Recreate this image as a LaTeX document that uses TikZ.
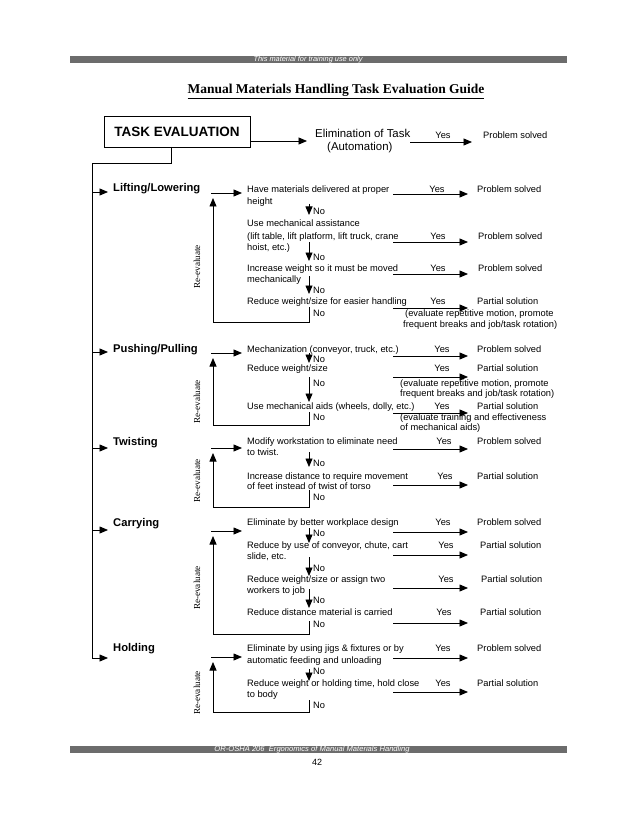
\documentclass[tikz,border=0pt]{standalone}
\usepackage{fontspec}
\setmainfont{Liberation Serif}
\setsansfont{Liberation Sans}
\usetikzlibrary{arrows.meta}
\definecolor{bargray}{RGB}{108,108,108}
\tikzset{
 ln/.style={line width=0.8pt},
 arr/.style={line width=0.8pt,-{Triangle[length=8.5pt,width=7pt]}},
 txt/.style={inner sep=0pt,anchor=base west,font=\sffamily\fontsize{9.3}{11}\selectfont},
 cat/.style={inner sep=0pt,anchor=base west,font=\sffamily\bfseries\fontsize{11.2}{13}\selectfont},
 yes/.style={inner sep=0pt,anchor=base,font=\sffamily\fontsize{9.3}{11}\selectfont},
 reeval/.style={inner sep=0pt,rotate=90,font=\rmfamily\fontsize{9.2}{11}\selectfont},
}
\newcommand\yesline[2]{\coordinate (#1s) at (393,#2); \coordinate (#1e) at (468,#2); \draw[arr] (#1s) -- (#1e);}
\newcommand\downarr[3]{\coordinate (#1s) at (309,#2); \coordinate (#1e) at (309,#3); \draw[arr] (#1s) -- (#1e);}
\newcommand\reloop[4]{\coordinate (#1a) at (309,#2); \coordinate (#1b) at (309,#3); \coordinate (#1c) at (213,#3); \coordinate (#1d) at (213,#4); \draw[arr] (#1a) -- (#1b) -- (#1c) -- (#1d);}
\newcommand\entryarr[2]{\coordinate (#1s) at (211,#2); \coordinate (#1e) at (242,#2); \draw[arr] (#1s) -- (#1e);}
\begin{document}
\begin{tikzpicture}[x=1pt,y=-1pt]
\useasboundingbox[fill=white] (0,0) rectangle (638,826);
% header / footer
\fill[bargray] (70,56) rectangle (567,63);
\node[inner sep=0pt,text=white,font=\sffamily\itshape\fontsize{7.4}{8}\selectfont] (hdr) at (308,59.5) {This material for training use only};
\node[inner sep=0pt,anchor=base,font=\rmfamily\bfseries\fontsize{13.5}{15}\selectfont] (title) at (336,94) {\underline{Manual Materials Handling Task Evaluation Guide}};
\fill[bargray] (70,746) rectangle (567,753);
\node[inner sep=0pt,text=white,font=\sffamily\itshape\fontsize{7.6}{8}\selectfont] (ftr) at (312,749.5) {OR-OSHA 206\ \ Ergonomics of Manual Materials Handling};
\node[inner sep=0pt,anchor=base,font=\sffamily\fontsize{9}{10}\selectfont] (pg) at (317,765.5) {42};
% top
\node[draw,line width=0.9pt,minimum width=146pt,minimum height=31pt,inner sep=0pt,font=\sffamily\bfseries\fontsize{13.5}{15}\selectfont] (te) at (177,131.5) {TASK EVALUATION};
\coordinate (teo) at (250,141); \coordinate (elin) at (307,141);
\draw[arr] (teo) -- (elin);
\node[inner sep=0pt,anchor=base west,font=\sffamily\fontsize{11.4}{13}\selectfont] (elim) at (315,138) {Elimination of Task};
\node[inner sep=0pt,anchor=base west,font=\sffamily\fontsize{11.4}{13}\selectfont] (auto) at (327,151) {(Automation)};
\coordinate (y0s) at (410,142); \coordinate (y0e) at (472,142); \draw[arr] (y0s) -- (y0e);
\node[yes] (y0) at (443,138.5) {Yes};
\node[txt] (p0) at (483,138.5) {Problem solved};
% left tree
\coordinate (t0) at (171,147); \coordinate (t1) at (171,163); \coordinate (t2) at (92,163); \coordinate (t3) at (92,658);
\draw[ln] (t0) -- (t1) -- (t2) -- (t3);
\coordinate (hE) at (108,658); \draw[arr] (t3) -- (hE);
\coordinate (lS) at (92,192); \coordinate (lE) at (108,192); \draw[arr] (lS) -- (lE);
\coordinate (pS) at (92,352); \coordinate (pE) at (108,352); \draw[arr] (pS) -- (pE);
\coordinate (tS) at (92,448); \coordinate (tE) at (108,448); \draw[arr] (tS) -- (tE);
\coordinate (cS) at (92,530); \coordinate (cE) at (108,530); \draw[arr] (cS) -- (cE);
\node[cat] (lift) at (113,192) {Lifting/Lowering};
\node[cat] (push) at (113,352) {Pushing/Pulling};
\node[cat] (twist) at (113,445) {Twisting};
\node[cat] (carry) at (113,526) {Carrying};
\node[cat] (hold) at (113,651) {Holding};
% ===== Lifting
\entryarr{le}{193}
\node[txt] (l1a) at (247,192.5) {Have materials delivered at proper};
\node[txt] (l1b) at (247,204.5) {height};
\node[txt] (l2a) at (247,226.5) {Use mechanical assistance};
\node[txt] (l2b) at (247,239.5) {(lift table, lift platform, lift truck, crane};
\node[txt] (l2c) at (247,250.5) {hoist, etc.)};
\node[txt] (l3a) at (247,271.5) {Increase weight so it must be moved};
\node[txt] (l3b) at (247,282.5) {mechanically};
\node[txt] (l4a) at (247,304.5) {Reduce weight/size for easier handling};
\downarr{ld1}{204}{215} \node[txt] (ln1) at (313,214.5) {No};
\downarr{ld2}{242}{261} \node[txt] (ln2) at (313,260.5) {No};
\downarr{ld3}{276}{294} \node[txt] (ln3) at (313,293.5) {No};
\reloop{lr}{307}{322}{198} \node[txt] (ln4) at (313,316.5) {No};
\node[reeval] (lre) at (197,267) {Re-evaluate};
\yesline{ly1}{194} \node[yes] (lY1) at (437,192.5) {Yes} ; \node[txt] (lP1) at (477,192.5) {Problem solved};
\yesline{ly2}{242} \node[yes] (lY2) at (438,239.5) {Yes} ; \node[txt] (lP2) at (478,239.5) {Problem solved};
\yesline{ly3}{274} \node[yes] (lY3) at (438,271.5) {Yes} ; \node[txt] (lP3) at (478,271.5) {Problem solved};
\yesline{ly4}{308} \node[yes] (lY4) at (438,304.5) {Yes} ; \node[txt] (lP4) at (477,304.5) {Partial solution};
\node[txt] (lP4b) at (405,316.5) {(evaluate repetitive motion, promote};
\node[txt] (lP4c) at (403,327.5) {frequent breaks and job/task rotation)};
% ===== Pushing
\entryarr{pe}{353}
\node[txt] (p1a) at (247,352.5) {Mechanization (conveyor, truck, etc.)};
\node[txt] (p2a) at (247,371.5) {Reduce weight/size};
\node[txt] (p3a) at (247,409.5) {Use mechanical aids (wheels, dolly, etc.)};
\downarr{pd1}{353}{363} \node[txt] (pn1) at (313,362.5) {No};
\downarr{pd2}{377}{402} \node[txt] (pn2) at (313,386.5) {No};
\reloop{pr}{412}{425}{358} \node[txt] (pn3) at (313,420.5) {No};
\node[reeval] (pre) at (197,402) {Re-evaluate};
\yesline{py1}{356} \node[yes] (pY1) at (442,352.5) {Yes}; \node[txt] (pP1) at (477,352.5) {Problem solved};
\yesline{py2}{377} \node[yes] (pY2) at (442,371.5) {Yes}; \node[txt] (pP2) at (477,371.5) {Partial solution};
\node[txt] (pP2b) at (400,386.5) {(evaluate repetitive motion, promote};
\node[txt] (pP2c) at (400,396.5) {frequent breaks and job/task rotation)};
\yesline{py3}{413} \node[yes] (pY3) at (442,409.5) {Yes}; \node[txt] (pP3) at (477,409.5) {Partial solution};
\node[txt] (pP3b) at (400,420.5) {(evaluate training and effectiveness};
\node[txt] (pP3c) at (400,430.5) {of mechanical aids)};
% ===== Twisting
\entryarr{we}{448}
\node[txt] (w1a) at (247,444.5) {Modify workstation to eliminate need};
\node[txt] (w1b) at (247,455.5) {to twist.};
\node[txt] (w2a) at (247,479.5) {Increase distance to require movement};
\node[txt] (w2b) at (247,489.5) {of feet instead of twist of torso};
\downarr{wd1}{452}{467} \node[txt] (wn1) at (313,466.5) {No};
\reloop{wr}{490}{507}{453} \node[txt] (wn2) at (313,500.5) {No};
\node[reeval] (wre) at (197,481) {Re-evaluate};
\yesline{wy1}{449} \node[yes] (wY1) at (444,444.5) {Yes}; \node[txt] (wP1) at (477,444.5) {Problem solved};
\yesline{wy2}{485} \node[yes] (wY2) at (445,479.5) {Yes}; \node[txt] (wP2) at (477,479.5) {Partial solution};
% ===== Carrying
\entryarr{ce}{531}
\node[txt] (c1a) at (247,525.5) {Eliminate by better workplace design};
\node[txt] (c2a) at (247,548.5) {Reduce by use of conveyor, chute, cart};
\node[txt] (c2b) at (247,559.5) {slide, etc.};
\node[txt] (c3a) at (247,582.5) {Reduce weight/size or assign two};
\node[txt] (c3b) at (247,593.5) {workers to job};
\node[txt] (c4a) at (247,615.5) {Reduce distance material is carried};
\downarr{cd1}{528}{543} \node[txt] (cn1) at (313,536.5) {No};
\downarr{cd2}{557}{576} \node[txt] (cn2) at (313,571.5) {No};
\downarr{cd3}{589}{608} \node[txt] (cn3) at (313,603.5) {No};
\reloop{cr}{621}{634}{536} \node[txt] (cn4) at (313,627.5) {No};
\node[reeval] (cre) at (197,588) {Re-evaluate};
\yesline{cy1}{532} \node[yes] (cY1) at (443,525.5) {Yes}; \node[txt] (cP1) at (477,525.5) {Problem solved};
\yesline{cy2}{555} \node[yes] (cY2) at (446,548.5) {Yes}; \node[txt] (cP2) at (480,548.5) {Partial solution};
\yesline{cy3}{588} \node[yes] (cY3) at (446,582.5) {Yes}; \node[txt] (cP3) at (481,582.5) {Partial solution};
\yesline{cy4}{623} \node[yes] (cY4) at (444,615.5) {Yes}; \node[txt] (cP4) at (480,615.5) {Partial solution};
% ===== Holding
\entryarr{he}{657}
\node[txt] (h1a) at (247,651.5) {Eliminate by using jigs \& fixtures or by};
\node[txt] (h1b) at (247,663.5) {automatic feeding and unloading};
\node[txt] (h2a) at (247,686.5) {Reduce weight or holding time, hold close};
\node[txt] (h2b) at (247,697.5) {to body};
\downarr{hd1}{669}{681} \node[txt] (hn1) at (313,674.5) {No};
\reloop{hr}{700}{712}{662} \node[txt] (hn2) at (313,708.5) {No};
\node[reeval] (hre) at (197,693) {Re-evaluate};
\yesline{hy1}{658} \node[yes] (hY1) at (443,651.5) {Yes}; \node[txt] (hP1) at (477,651.5) {Problem solved};
\yesline{hy2}{692} \node[yes] (hY2) at (443,686.5) {Yes}; \node[txt] (hP2) at (477,686.5) {Partial solution};
\end{tikzpicture}
\end{document}
